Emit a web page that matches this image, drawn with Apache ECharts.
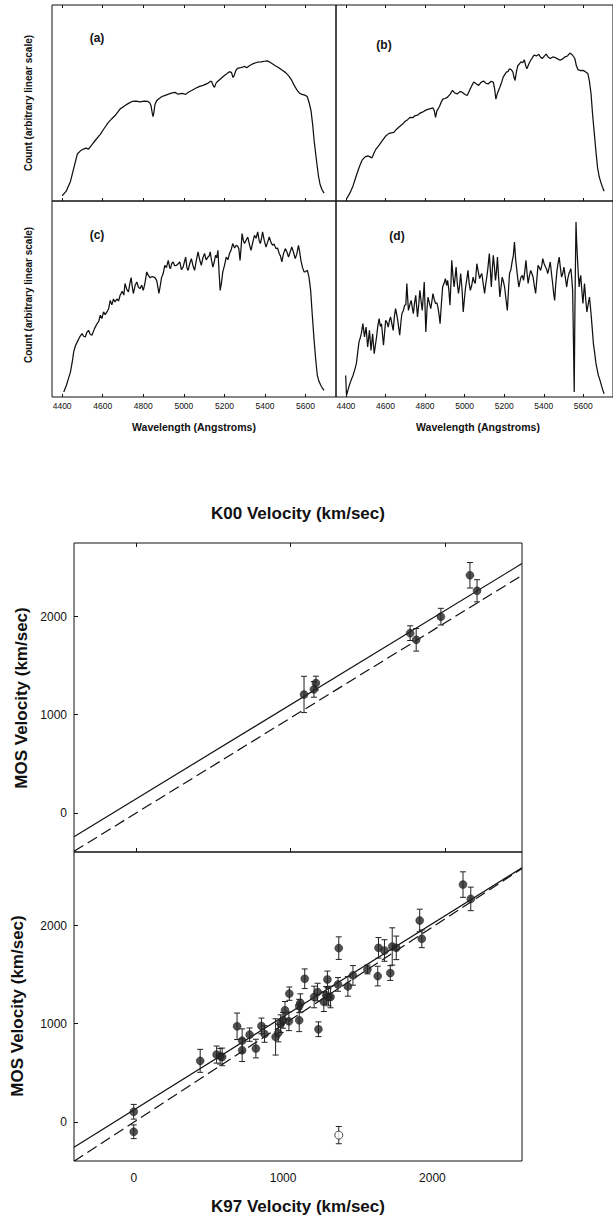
<!DOCTYPE html>
<html><head><meta charset="utf-8">
<script src="https://cdn.jsdelivr.net/npm/echarts@6/dist/echarts.min.js"></script>
<style>html,body{margin:0;padding:0;background:#fff}#chart{width:613px;height:1215px}</style>
</head><body><div id="chart"></div>
<script>
// ---------- DATA ----------
const wavelengthTicks = [4400, 4600, 4800, 5000, 5200, 5400, 5600];
const velocityTicks = [0, 1000, 2000];

// spectra: [wavelength (Angstrom), count (arbitrary, 0-100)]
const spectrumA = [[4400,2.6],[4420,5],[4441,10],[4458,17],[4475,24],[4490,25.6],[4505,26.5],[4518,27],[4530,26.5],[4549,29],[4568,31.5],[4588,34],[4607,37],[4627,40],[4645,42],[4661,43.6],[4675,45.5],[4686,47],[4700,48],[4710,48.7],[4727,49.8],[4745,50.8],[4765,51],[4784,50.6],[4805,51],[4823,50.8],[4832,50],[4838,48.7],[4844,45],[4848,43],[4852,45],[4857,49],[4865,51],[4872,51.8],[4892,53.3],[4905,53.8],[4921,54.4],[4938,55],[4956,55.4],[4972,54.5],[4990,54.9],[5009,54.4],[5022,55.5],[5039,56.4],[5058,57.5],[5078,58.5],[5095,59],[5117,60],[5130,61],[5137,61],[5144,59],[5151,58],[5158,60],[5166,61],[5183,62.5],[5200,64],[5213,65],[5225,66],[5235,65.5],[5242,63],[5248,64],[5256,66.5],[5264,67.7],[5280,68],[5299,68.7],[5310,68],[5323,69],[5340,70],[5362,70.8],[5380,71],[5397,71.3],[5410,71.5],[5421,71],[5436,70],[5451,69],[5468,68],[5485,66.7],[5502,65.5],[5519,63.6],[5532,61.5],[5544,59],[5559,56.4],[5570,55],[5583,54.4],[5596,54],[5608,53.3],[5618,50],[5627,46],[5635,39],[5642,31],[5650,24],[5657,18],[5664,12.5],[5671,8.7],[5680,6],[5691,4]];

const spectrumB = [[4403,1],[4420,4],[4436,7.7],[4448,11.5],[4461,15.4],[4472,18.5],[4483,21],[4497,22.5],[4511,23],[4522,22.5],[4532,22],[4542,24.5],[4552,26.5],[4568,28.5],[4584,30.8],[4600,33],[4618,34.5],[4630,34.8],[4642,35],[4655,36.5],[4667,37.6],[4684,39],[4700,40.7],[4712,41.5],[4725,42.7],[4738,42.5],[4750,43.6],[4762,43.8],[4774,44.8],[4790,45.5],[4807,46.5],[4823,47],[4840,47.5],[4847,46],[4853,42.7],[4860,46],[4873,48.2],[4882,50.5],[4890,52],[4902,52.3],[4914,53],[4927,54.5],[4939,56.4],[4951,55],[4964,54.7],[4976,55.8],[4988,55.5],[5000,54.5],[5013,53.8],[5030,57.5],[5046,60.7],[5058,59.8],[5071,59],[5083,60.5],[5096,61.2],[5108,60],[5120,59.8],[5133,61],[5145,60.7],[5152,57],[5158,52],[5166,55],[5178,58],[5187,60.5],[5195,63.2],[5203,64.5],[5211,65.8],[5219,66],[5227,67.5],[5236,67],[5244,65.8],[5250,63],[5255,61.5],[5262,66],[5269,69],[5277,70],[5285,71],[5294,70.5],[5302,72],[5309,69],[5315,67.5],[5325,70],[5334,71.8],[5342,73],[5351,74.4],[5363,74],[5375,74.9],[5383,73.5],[5392,72.7],[5402,73.8],[5412,74.9],[5422,73.5],[5433,72.7],[5446,73.5],[5458,73.2],[5470,72.5],[5483,71.8],[5495,72.5],[5507,73.5],[5520,74],[5532,75.5],[5545,74.5],[5557,72.7],[5565,69],[5573,67],[5586,66.5],[5598,66.7],[5610,66],[5623,65],[5631,61],[5639,54.7],[5647,44],[5656,34],[5664,25],[5672,17],[5680,12.5],[5689,9.4],[5697,7],[5705,5]];

const spectrumC = [[4408,2.6],[4421,6],[4430,9],[4441,12.8],[4450,18],[4457,23],[4465,26],[4474,28],[4486,30.5],[4498,32.3],[4506,31],[4514,30.6],[4522,33],[4530,34],[4538,32],[4547,31.5],[4560,35],[4572,37.4],[4580,38.5],[4588,41.7],[4596,40],[4604,43.4],[4612,42],[4621,43.4],[4629,45],[4637,49.3],[4645,47],[4653,50],[4661,48.5],[4670,50],[4678,49],[4686,51.9],[4696,54],[4704,52],[4710,57.9],[4718,55],[4727,53.6],[4734,58],[4740,60.9],[4746,56],[4751,52.8],[4760,57],[4768,58.7],[4776,56],[4784,55.3],[4792,57],[4800,54.4],[4808,58],[4817,63.8],[4825,62],[4833,60.9],[4845,61.5],[4857,60.9],[4866,59.5],[4872,56],[4877,52.8],[4884,57],[4890,60.9],[4898,63],[4906,67.2],[4914,66],[4923,69.7],[4930,66],[4934,65.5],[4940,68],[4947,68.9],[4955,67],[4964,67.2],[4972,68],[4980,68.9],[4988,65],[4996,66.3],[5003,69],[5009,71.4],[5015,66],[5021,64.6],[5029,68],[5037,70.6],[5045,67],[5053,64.6],[5062,70],[5070,74],[5078,70],[5086,67.2],[5094,71],[5102,73.2],[5110,70],[5119,71.4],[5125,72],[5130,74],[5136,70],[5143,66.3],[5150,69],[5156,72.3],[5162,71],[5168,74.8],[5174,63],[5179,54.4],[5185,58],[5192,63.8],[5200,67],[5209,71.4],[5217,70],[5225,73.2],[5233,75],[5241,78.3],[5250,76],[5258,77.4],[5265,77],[5271,75.7],[5277,69.7],[5282,76],[5287,83.4],[5293,80],[5299,78.3],[5307,80],[5315,81.6],[5323,78],[5331,74.8],[5340,79],[5348,82.5],[5356,81],[5364,84.2],[5371,80],[5377,78.3],[5383,81],[5388,84.2],[5396,80],[5405,76.5],[5413,79],[5421,81.6],[5429,79],[5437,77.4],[5445,78],[5454,75.7],[5462,76],[5470,73.2],[5476,72],[5483,68.9],[5491,73],[5500,75.7],[5508,74],[5516,71.4],[5524,74],[5532,76.5],[5540,74],[5549,70.6],[5557,73],[5565,77.4],[5571,74],[5577,69.7],[5585,66],[5593,63.8],[5600,64],[5609,64.6],[5617,61],[5625,54.4],[5633,42],[5642,29],[5650,19],[5658,11],[5666,8],[5675,6],[5683,4.5],[5691,3.4]];

const spectrumD = [[4399,11],[4403,0.9],[4412,4],[4420,6.8],[4428,9],[4436,11],[4445,14],[4453,17],[4460,23],[4466,28],[4472,30],[4478,32.3],[4486,37.4],[4494,30.6],[4502,35.7],[4510,25.5],[4519,34],[4527,23.8],[4535,32.3],[4543,22.1],[4555,30.6],[4561,36],[4568,40],[4574,36],[4580,37.4],[4590,26.4],[4601,39.1],[4608,38],[4614,35.7],[4620,39],[4626,40.8],[4633,37],[4639,34],[4645,41],[4651,45.1],[4657,42],[4662,39.1],[4672,31.5],[4678,38],[4683,42.5],[4690,44],[4697,46.8],[4703,47],[4708,57.9],[4716,44.2],[4723,47],[4730,49.3],[4735,46],[4741,42.5],[4747,48],[4753,51.9],[4762,40.8],[4768,47],[4774,54.4],[4780,49],[4786,44.2],[4791,51],[4796,58.7],[4804,33.2],[4810,45],[4815,51],[4822,48],[4829,45.1],[4835,49],[4840,52.8],[4846,50],[4853,47.7],[4860,48],[4865,45.9],[4871,42],[4876,37.4],[4883,48],[4889,56.1],[4896,58],[4903,60.4],[4909,57],[4914,59.5],[4920,55],[4926,46.8],[4931,58],[4935,69.7],[4941,62],[4947,56.1],[4952,61],[4957,66.3],[4963,58],[4969,52.8],[4975,57],[4980,63],[4987,55],[4993,43.4],[4999,50],[5005,56.1],[5011,60],[5017,64.6],[5023,58],[5029,54.4],[5036,57],[5043,61.2],[5048,59],[5054,57.9],[5058,63],[5062,68],[5069,64],[5076,60.4],[5081,62],[5087,63],[5094,58],[5101,52.8],[5106,57],[5112,61.2],[5118,66],[5125,73.2],[5130,65],[5135,56.1],[5140,65],[5145,72.3],[5151,66],[5156,59.5],[5161,64],[5166,71.4],[5172,61],[5178,51],[5184,56],[5190,61.2],[5196,59],[5202,56.1],[5209,50],[5216,44.2],[5222,55],[5227,63],[5234,65],[5240,68.9],[5246,72],[5252,79.1],[5258,70],[5264,64.6],[5269,60],[5274,56.1],[5280,59],[5285,61.2],[5292,62],[5298,59.5],[5304,64],[5310,69.7],[5316,63],[5321,57.9],[5328,62],[5334,64.6],[5340,63],[5346,61.2],[5352,57],[5359,52.8],[5365,60],[5371,67.2],[5378,66],[5384,64.6],[5390,67],[5395,70.6],[5402,68],[5409,66.3],[5415,65],[5420,63],[5427,66],[5433,68.9],[5439,63],[5445,57.9],[5450,53],[5455,49.3],[5461,58],[5467,64.6],[5472,68],[5478,71.4],[5484,66],[5490,61.2],[5496,63],[5502,66.3],[5509,61],[5516,56.1],[5521,60],[5527,63],[5532,64],[5537,65.5],[5542,60],[5546,54.4],[5550,30],[5554,2.6],[5558,50],[5563,89.3],[5566,80],[5570,71.4],[5575,62],[5579,56.1],[5583,60],[5587,62.1],[5592,55],[5598,47.7],[5602,53],[5606,57.9],[5612,50],[5618,43.4],[5624,47],[5631,51],[5635,47],[5639,42.5],[5645,35],[5651,27.2],[5658,22],[5664,17],[5670,14],[5676,11],[5683,9],[5689,6.8],[5697,4],[5705,1.7]];

// velocity comparisons: [reference velocity, MOS velocity, error]
const k00Points = [[1089,1206,185],[1153,1258,80],[1166,1322,70],[1776,1831,75],[1815,1763,115],[1975,1999,85],[2163,2421,130],[2209,2263,113]];
const k97Points = [[0,102,75],[0,-102,70],[445,621,117],[555,685,87],[579,668,80],[592,661,90],[692,973,135],[726,827,120],[726,729,115],[776,888,68],[818,746,95],[855,977,80],[876,895,85],[950,865,185],[968,905,90],[984,1000,90],[1000,1034,80],[1013,1136,90],[1039,1024,95],[1042,1306,68],[1108,1034,115],[1108,1180,68],[1116,1211,93],[1145,1458,100],[1208,1272,110],[1231,1322,90],[1237,943,75],[1273,1224,100],[1289,1289,90],[1297,1451,85],[1305,1272,90],[1318,1272,110],[1368,1400,70],[1373,1770,115],[1434,1380,100],[1468,1492,100],[1565,1553,45],[1634,1485,100],[1639,1773,105],[1679,1746,110],[1718,1516,75],[1731,1787,190],[1758,1773,120],[1915,2052,115],[1929,1865,90],[2205,2418,130],[2257,2272,120]];
const k97Rejected = [[1373,-136,88]];

// fit lines (end points)
const k00FitSolid = [[-400,-244],[2500,2540]];
const k00FitDashed = [[-400,-393],[2500,2420]];
const k97FitSolid = [[-400,-260],[2600,2590]];
const k97FitDashed = [[-400,-403],[2600,2582]];

// ---------- CHART ----------
const FONT = "'Liberation Sans', Arial, Helvetica, sans-serif";
const INK = '#111';
const plain = v => String(v);
const chart = echarts.init(document.getElementById('chart'), null, {renderer: 'svg'});

const grids = [
  {left: 52, top: 5, width: 284, height: 196},
  {left: 336, top: 5, width: 284, height: 196},
  {left: 52, top: 201, width: 284, height: 196},
  {left: 336, top: 201, width: 284, height: 196},
  {left: 74, top: 543, width: 448, height: 309},
  {left: 74, top: 852, width: 448, height: 309}
].map(g => Object.assign({show: true, borderColor: INK, borderWidth: 1, backgroundColor: 'transparent'}, g));

const noLine = {show: false, onZero: false};
const xAxes = [];
const yAxes = [];
// spectra axes
for (let i = 0; i < 4; i++) {
  xAxes.push({
    type: 'value', gridIndex: i, min: 4350, max: 5750, position: 'bottom',
    axisLine: noLine, splitLine: {show: false},
    axisTick: {show: true, inside: true, length: 3, customValues: wavelengthTicks, lineStyle: {color: INK}},
    axisLabel: {show: i >= 2, customValues: wavelengthTicks, formatter: plain, fontSize: 8.5, fontFamily: FONT, color: INK, margin: 4}
  });
  yAxes.push({type: 'value', gridIndex: i, min: 0, max: 100, show: false, axisLine: noLine});
}
// top ticks for panels a, b  (xAxis 4,5)
for (let i = 0; i < 2; i++) {
  xAxes.push({
    type: 'value', gridIndex: i, min: 4350, max: 5750, position: 'top',
    axisLine: noLine, splitLine: {show: false},
    axisTick: {show: true, inside: true, length: 3, customValues: wavelengthTicks, lineStyle: {color: INK}},
    axisLabel: {show: false}
  });
}
// scatter top panel: xAxis 6 (top), 7 (bottom)
xAxes.push({
  type: 'value', gridIndex: 4, min: -400, max: 2500, position: 'top',
  axisLine: noLine, splitLine: {show: false},
  axisTick: {show: true, inside: true, length: 4, customValues: velocityTicks, lineStyle: {color: INK}},
  axisLabel: {show: false}
});
xAxes.push({
  type: 'value', gridIndex: 4, min: -400, max: 2500, position: 'bottom',
  axisLine: noLine, splitLine: {show: false},
  axisTick: {show: true, inside: true, length: 4, customValues: velocityTicks, lineStyle: {color: INK}},
  axisLabel: {show: false}
});
// scatter bottom panel: xAxis 8
xAxes.push({
  type: 'value', gridIndex: 5, min: -400, max: 2600, position: 'bottom',
  axisLine: noLine, splitLine: {show: false},
  axisTick: {show: false},
  axisLabel: {customValues: velocityTicks, formatter: plain, fontSize: 12, fontFamily: FONT, color: INK, margin: 11}
});
// scatter y axes: yAxis 4, 5
for (let g = 4; g <= 5; g++) {
  yAxes.push({
    type: 'value', gridIndex: g, min: -400, max: 2750, position: 'left',
    axisLine: noLine, splitLine: {show: false},
    axisTick: {show: true, inside: true, length: 4, customValues: velocityTicks, lineStyle: {color: INK}},
    axisLabel: {customValues: velocityTicks, formatter: plain, fontSize: 12, fontFamily: FONT, color: INK, margin: 7}
  });
}

function spec(data, xi, yi) {
  return {type: 'line', data: data, xAxisIndex: xi, yAxisIndex: yi, showSymbol: false, symbol: 'none',
    lineStyle: {color: INK, width: 1.25}, silent: true, clip: true};
}
function fitLine(data, xi, yi, dashed) {
  return {type: 'line', data: data, xAxisIndex: xi, yAxisIndex: yi, showSymbol: false, symbol: 'none',
    lineStyle: {color: INK, width: 1.2, type: dashed ? [11, 5] : 'solid'}, silent: true, clip: true, z: 2};
}
function errorBars(data, xi, yi) {
  return {
    type: 'custom', data: data, xAxisIndex: xi, yAxisIndex: yi, z: 3, silent: true,
    encode: {x: 0, y: 1},
    renderItem: function (params, api) {
      const x = api.value(0), y = api.value(1), e = api.value(2);
      const top = api.coord([x, y + e]);
      const bot = api.coord([x, y - e]);
      const hw = 3;
      const st = {stroke: '#222', lineWidth: 1};
      return {type: 'group', children: [
        {type: 'line', shape: {x1: top[0], y1: top[1], x2: bot[0], y2: bot[1]}, style: st},
        {type: 'line', shape: {x1: top[0] - hw, y1: top[1], x2: top[0] + hw, y2: top[1]}, style: st},
        {type: 'line', shape: {x1: bot[0] - hw, y1: bot[1], x2: bot[0] + hw, y2: bot[1]}, style: st}
      ]};
    }
  };
}
function points(data, xi, yi, open) {
  return {type: 'scatter', data: data, xAxisIndex: xi, yAxisIndex: yi, symbol: 'circle', symbolSize: 8, z: 4,
    itemStyle: open ? {color: '#fff', borderColor: '#222', borderWidth: 1} : {color: '#262626', borderColor: '#111', borderWidth: 0.5},
    silent: true};
}

function txt(text, x, y, size, bold, rot) {
  return {type: 'text', x: x, y: y, rotation: rot || 0, silent: true,
    style: {text: text, fill: INK, font: (bold ? 'bold ' : '') + size + 'px ' + FONT, align: 'center', verticalAlign: 'middle'}};
}

const option = {
  animation: false,
  backgroundColor: '#fff',
  grid: grids,
  xAxis: xAxes,
  yAxis: yAxes,
  series: [
    spec(spectrumA, 0, 0),
    spec(spectrumB, 1, 1),
    spec(spectrumC, 2, 2),
    spec(spectrumD, 3, 3),
    fitLine(k00FitSolid, 7, 4, false),
    fitLine(k00FitDashed, 7, 4, true),
    fitLine(k97FitSolid, 8, 5, false),
    fitLine(k97FitDashed, 8, 5, true),
    errorBars(k00Points, 7, 4),
    errorBars(k97Points, 8, 5),
    errorBars(k97Rejected, 8, 5),
    points(k00Points, 7, 4, false),
    points(k97Points, 8, 5, false),
    points(k97Rejected, 8, 5, true)
  ],
  graphic: [
    txt('Count (arbitrary linear scale)', 28, 103, 10, true, Math.PI / 2),
    txt('Count (arbitrary linear scale)', 28, 295, 10, true, Math.PI / 2),
    txt('(a)', 97, 38, 12, true),
    txt('(b)', 384, 45, 12, true),
    txt('(c)', 97, 235, 12, true),
    txt('(d)', 397, 236, 12, true),
    txt('Wavelength (Angstroms)', 194, 427, 10.5, true),
    txt('Wavelength (Angstroms)', 478, 427, 10.5, true),
    txt('K00 Velocity (km/sec)', 298, 513, 17, true),
    txt('MOS Velocity (km/sec)', 21, 698, 17, true, Math.PI / 2),
    txt('MOS Velocity (km/sec)', 17, 1006, 17, true, Math.PI / 2),
    txt('K97 Velocity (km/sec)', 298, 1206, 17, true)
  ]
};
chart.setOption(option);
</script>
</body></html>
